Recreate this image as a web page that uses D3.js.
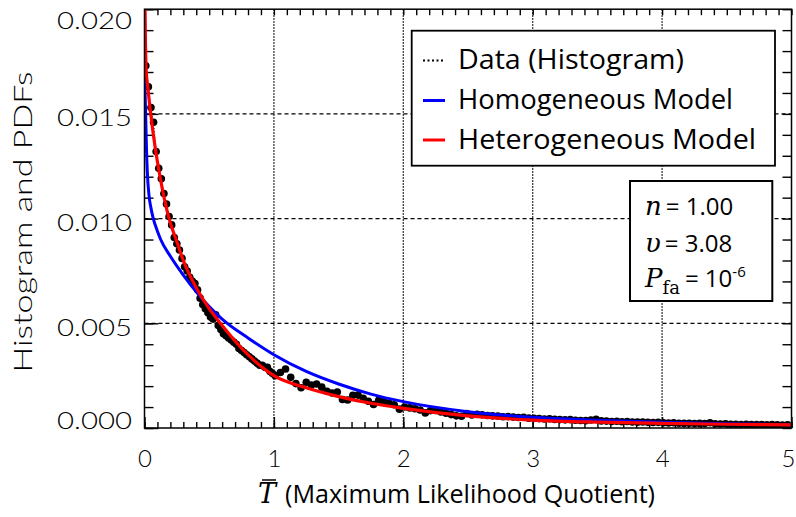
<!DOCTYPE html>
<html>
<head>
<meta charset="utf-8">
<script src="https://cdn.jsdelivr.net/npm/d3@7"></script>
<style>
  html, body { margin: 0; padding: 0; background: #fff; }
  svg { display: block; }
</style>
</head>
<body>
<svg id="chart" width="796" height="517"></svg>
<script>
// ---------------- DATA ----------------
const xTickLabels = [0, 1, 2, 3, 4, 5];
const yTickLabels = [0.000, 0.005, 0.010, 0.015, 0.020];

const legendLabels = ["Data (Histogram)", "Homogeneous Model", "Heterogeneous Model"];
const seriesColors = ["#000000", "#0000ff", "#ff0000"];

const xTitle = "(Maximum Likelihood Quotient)";
const yTitle = "Histogram and PDFs";

// histogram data points (bin centres, densities)
const dataX = [
  0.01,0.03,0.05,0.07,0.09,0.11,0.13,0.15,0.17,0.19,
  0.21,0.23,0.25,0.27,0.29,0.31,0.33,0.35,0.37,0.39,
  0.41,0.43,0.45,0.47,0.49,0.51,0.53,0.55,0.57,0.59,
  0.61,0.63,0.65,0.67,0.69,0.71,0.73,0.75,0.77,0.79,
  0.81,0.83,0.85,0.87,0.89,0.91,0.93,0.95,0.97,0.99,
  1.01,1.05,1.09,1.13,1.17,1.21,1.25,1.29,1.33,1.37,
  1.41,1.45,1.49,1.53,1.57,1.61,1.65,1.69,1.73,1.77,
  1.81,1.85,1.89,1.93,1.97,2.01,2.05,2.09,2.13,2.17,
  2.21,2.25,2.29,2.33,2.37,2.41,2.45,2.49,2.53,2.57,
  2.61,2.65,2.69,2.73,2.77,2.81,2.85,2.89,2.93,2.97,
  3.01,3.05,3.09,3.13,3.17,3.21,3.25,3.29,3.33,3.37,
  3.41,3.45,3.49,3.53,3.57,3.61,3.65,3.69,3.73,3.77,
  3.81,3.85,3.89,3.93,3.97,4.01,4.05,4.09,4.13,4.17,
  4.21,4.25,4.29,4.33,4.37,4.41,4.45,4.49,4.53,4.57,
  4.61,4.65,4.69,4.73,4.77,4.81,4.85,4.89,4.93,4.97
];
const dataY = [
  0.0173,0.0163,0.0153,0.0146,0.0132,0.0124,0.0119,0.0112,0.0107,0.0101,
  0.0097,0.0091,0.0088,0.0085,0.0081,0.0077,0.0075,0.0072,0.0070,0.0069,
  0.0066,0.0062,0.0059,0.0057,0.0055,0.0053,0.0052,0.0054,0.0049,0.0047,
  0.0045,0.0044,0.0043,0.0042,0.0041,0.0040,0.0038,0.0037,0.0036,0.0035,
  0.0034,0.0033,0.0032,0.0031,0.0030,0.0030,0.0029,0.0029,0.0027,0.0026,
  0.00250,0.00265,0.00282,0.00242,0.00212,0.00192,0.00218,0.00205,0.00210,0.00195,
  0.00175,0.00167,0.00172,0.00136,0.00134,0.00156,0.00157,0.00142,0.00128,0.00112,
  0.00132,0.00125,0.00118,0.00111,0.00090,0.00100,0.00096,0.00092,0.00086,0.00072,
  0.00083,0.00084,0.00077,0.00071,0.00064,0.00058,0.00056,0.00069,0.00062,0.00066,
  0.00063,0.00060,0.00058,0.00057,0.00054,0.00055,0.00052,0.00050,0.00051,0.00047,
  0.00046,0.00045,0.00043,0.00044,0.00041,0.00040,0.00039,0.00040,0.00037,0.00036,
  0.00035,0.00038,0.00041,0.00034,0.00033,0.00031,0.00032,0.00030,0.00031,0.00029,
  0.00028,0.00029,0.00027,0.00026,0.00027,0.00025,0.00024,0.00025,0.00023,0.00022,
  0.00023,0.00021,0.00022,0.00021,0.00025,0.00020,0.00019,0.00020,0.00018,0.00018,
  0.00017,0.00018,0.00016,0.00017,0.00016,0.00015,0.00016,0.00015,0.00014,0.00015
];

// homogeneous model PDF (blue)
const homX = [0, 0.004, 0.009, 0.015, 0.022, 0.035, 0.05, 0.068, 0.1, 0.125, 0.2, 0.3, 0.4, 0.5, 0.6, 0.8, 1.0, 1.25, 1.5, 1.75, 2.0, 2.5, 3.0, 3.5, 4.0, 4.5, 5.0];
const homY = [0.0178, 0.0162, 0.0150, 0.0134, 0.0122, 0.0111, 0.0105, 0.0100, 0.0094, 0.0090, 0.0082, 0.0073, 0.0065, 0.0058, 0.0052, 0.0043, 0.0035, 0.0027, 0.0021, 0.00162, 0.00126, 0.00078, 0.00051, 0.00037, 0.00027, 0.00020, 0.00016];

// heterogeneous model PDF (red)
const hetX = [0, 0.005, 0.012, 0.025, 0.048, 0.08, 0.12, 0.19, 0.25, 0.3, 0.4, 0.5, 0.6, 0.8, 1.0, 1.25, 1.5, 1.75, 2.0, 2.5, 3.0, 3.5, 4.0, 4.5, 5.0];
const hetY = [0.0235, 0.0196, 0.0172, 0.0163, 0.0150, 0.0135, 0.0120, 0.0100, 0.0089, 0.0080, 0.0067, 0.0057, 0.0049, 0.0035, 0.00250, 0.00192, 0.00150, 0.00118, 0.00094, 0.00058, 0.00038, 0.00028, 0.00022, 0.00018, 0.00015];

// ---------------- CHART ----------------
const svg = d3.select("#chart");
const L = 144.5, R = 791.5, T = 9.2, B = 428;
const x = d3.scaleLinear().domain([0, 5]).range([L, R]);
const y = d3.scaleLinear().domain([0, 0.02]).range([B, T]);

const tickFont = "Lato, 'DejaVu Sans', sans-serif";
const tickWeight = 300;
const textFont = "'Open Sans', 'Noto Sans', sans-serif";
const mathFont = "'DejaVu Serif', 'Liberation Serif', serif";

svg.append("rect").attr("width", 796).attr("height", 517).attr("fill", "#fff");

svg.append("defs").append("clipPath").attr("id", "plotclip")
  .append("rect").attr("x", L).attr("y", T).attr("width", R - L).attr("height", B - T);

// grid
const grid = svg.append("g");
grid.selectAll("line.vg").data(xTickLabels.slice(1, -1)).join("line")
  .attr("x1", d => x(d)).attr("x2", d => x(d)).attr("y1", T).attr("y2", B)
  .attr("stroke", "#000").attr("stroke-width", 1.3).attr("stroke-dasharray", "1.5,1.5");
grid.selectAll("line.hg").data(yTickLabels.slice(1, -1)).join("line")
  .attr("x1", L).attr("x2", R).attr("y1", d => y(d)).attr("y2", d => y(d))
  .attr("stroke", "#000").attr("stroke-width", 1.3).attr("stroke-dasharray", "4,3");

// minor + major ticks on all four sides (inward)
const xMinor = d3.range(0, 50.5, 1).map(v => v / 10);
const yMinor = d3.range(0, 20.5, 1).map(v => v / 1000);
function cleanAxis(g) { g.select(".domain").remove(); g.selectAll("line").attr("stroke", "#000").attr("stroke-width", 1.4); }
svg.append("g").attr("transform", `translate(0,${B})`).call(d3.axisBottom(x).tickValues(xMinor).tickSize(-6).tickFormat("")).call(cleanAxis);
svg.append("g").attr("transform", `translate(0,${T})`).call(d3.axisTop(x).tickValues(xMinor).tickSize(-6).tickFormat("")).call(cleanAxis);
svg.append("g").attr("transform", `translate(${L},0)`).call(d3.axisLeft(y).tickValues(yMinor).tickSize(-9).tickFormat("")).call(cleanAxis);
svg.append("g").attr("transform", `translate(${R},0)`).call(d3.axisRight(y).tickValues(yMinor).tickSize(-9).tickFormat("")).call(cleanAxis);
svg.append("g").attr("transform", `translate(0,${B})`).call(d3.axisBottom(x).tickValues(xTickLabels).tickSize(-11).tickFormat("")).call(cleanAxis);
svg.append("g").attr("transform", `translate(${L},0)`).call(d3.axisLeft(y).tickValues(yTickLabels).tickSize(-14).tickFormat("")).call(cleanAxis);

// data: dotted line + dots
const plot = svg.append("g").attr("clip-path", "url(#plotclip)");
const dataPts = dataX.map((v, i) => [v, dataY[i]]);
plot.append("path").datum(dataPts)
  .attr("d", d3.line().x(d => x(d[0])).y(d => y(d[1])))
  .attr("fill", "none").attr("stroke", "#000").attr("stroke-width", 1).attr("stroke-dasharray", "1,2");
plot.selectAll("circle").data(dataPts).join("circle")
  .attr("cx", d => x(d[0])).attr("cy", d => y(d[1])).attr("r", 3.8).attr("fill", "#000");

const curve = d3.line().x(d => x(d[0])).y(d => y(d[1])).curve(d3.curveMonotoneX);
plot.append("path").datum(homX.map((v, i) => [v, homY[i]]))
  .attr("d", curve).attr("fill", "none").attr("stroke", seriesColors[1]).attr("stroke-width", 3);
plot.append("path").datum(hetX.map((v, i) => [v, hetY[i]]))
  .attr("d", curve).attr("fill", "none").attr("stroke", seriesColors[2]).attr("stroke-width", 3.2);

// frame
svg.append("rect").attr("x", L).attr("y", T).attr("width", R - L).attr("height", B - T)
  .attr("fill", "none").attr("stroke", "#000").attr("stroke-width", 1.5);

// tick labels
const yl = svg.append("g").attr("transform", `translate(${L},0)`)
  .call(d3.axisLeft(y).tickValues(yTickLabels).tickSize(0).tickPadding(12.5).tickFormat(d3.format(".3f")));
yl.select(".domain").remove();
yl.selectAll("text")
  .attr("font-family", tickFont).attr("font-weight", tickWeight).attr("font-size", 24).attr("fill", "#000")
  .attr("textLength", 75).attr("lengthAdjust", "spacingAndGlyphs")
  .attr("dy", (d, i) => i === 0 ? "0px" : (i === yTickLabels.length - 1 ? "19px" : "11.7px"));

const xl = svg.append("g").attr("transform", `translate(0,${B})`)
  .call(d3.axisBottom(x).tickValues(xTickLabels).tickSize(0).tickFormat(d3.format("d")));
xl.select(".domain").remove();
xl.selectAll("text")
  .attr("font-family", tickFont).attr("font-weight", tickWeight).attr("font-size", 24).attr("fill", "#000")
  .attr("y", 38.7).attr("dy", "0")
  .attr("text-anchor", (d, i) => i === xTickLabels.length - 1 ? "end" : "middle")
  .attr("x", (d, i) => i === xTickLabels.length - 1 ? 795 - x(d) : 0);

// y title
svg.append("text")
  .attr("transform", "translate(31.7,222) rotate(-90)")
  .attr("text-anchor", "middle")
  .attr("font-family", tickFont).attr("font-weight", tickWeight).attr("font-size", 25).attr("fill", "#000")
  .attr("textLength", 301).attr("lengthAdjust", "spacingAndGlyphs")
  .text(yTitle);

// x title: T-bar + text
svg.append("text").attr("x", 258).attr("y", 503)
  .attr("font-family", mathFont).attr("font-style", "italic").attr("font-size", 27).attr("fill", "#000")
  .text("T");
svg.append("line").attr("x1", 262).attr("x2", 276).attr("y1", 480).attr("y2", 480)
  .attr("stroke", "#000").attr("stroke-width", 1.5);
svg.append("text").attr("x", 285).attr("y", 503)
  .attr("font-family", textFont).attr("font-size", 26).attr("fill", "#000")
  .attr("textLength", 370).attr("lengthAdjust", "spacingAndGlyphs")
  .text(xTitle);

// legend
const lg = svg.append("g");
lg.append("rect").attr("x", 411.7).attr("y", 30.7).attr("width", 363.3).attr("height", 135)
  .attr("fill", "#fff").attr("stroke", "#000").attr("stroke-width", 1.8);
const legY = [69, 109, 148.5];
const legW = [226, 275, 298];
legendLabels.forEach((lab, i) => {
  lg.append("line").attr("x1", 423).attr("x2", 445)
    .attr("y1", legY[i] - 8.5).attr("y2", legY[i] - 8.5)
    .attr("stroke", seriesColors[i]).attr("stroke-width", i === 0 ? 2 : 3)
    .attr("stroke-dasharray", i === 0 ? "2,2.5" : null);
  lg.append("text").attr("x", 458).attr("y", legY[i])
    .attr("font-family", textFont).attr("font-size", 28).attr("fill", "#000")
    .attr("textLength", legW[i]).attr("lengthAdjust", "spacingAndGlyphs")
    .text(lab);
});

// annotation box
const ab = svg.append("g");
ab.append("rect").attr("x", 630).attr("y", 181).attr("width", 142.3).attr("height", 120)
  .attr("fill", "#fff").attr("stroke", "#000").attr("stroke-width", 2);
const t1 = ab.append("text").attr("x", 645).attr("y", 215).attr("fill", "#000");
t1.append("tspan").attr("font-family", mathFont).attr("font-style", "italic").attr("font-size", 26).text("n");
t1.append("tspan").attr("font-family", textFont).attr("font-size", 24).attr("dx", 4).text("= 1.00");
const t2 = ab.append("text").attr("x", 645).attr("y", 251.7).attr("fill", "#000");
t2.append("tspan").attr("font-family", mathFont).attr("font-style", "italic").attr("font-size", 26).text("υ");
t2.append("tspan").attr("font-family", textFont).attr("font-size", 24).attr("dx", 4).text("= 3.08");
const t3 = ab.append("text").attr("x", 645).attr("y", 287).attr("fill", "#000");
t3.append("tspan").attr("font-family", mathFont).attr("font-style", "italic").attr("font-size", 26).text("P");
t3.append("tspan").attr("font-family", mathFont).attr("font-size", 18).attr("dy", 7).text("fa");
t3.append("tspan").attr("font-family", textFont).attr("font-size", 24).attr("dy", -7).attr("dx", 5).text("= 10");
t3.append("tspan").attr("font-family", textFont).attr("font-size", 15).attr("dy", -10).text("-6");
</script>
</body>
</html>
